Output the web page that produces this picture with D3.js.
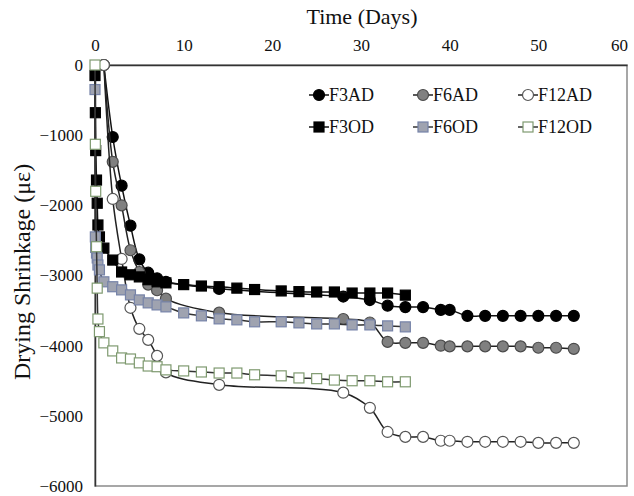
<!DOCTYPE html>
<html lang="en">
<head>
    <meta charset="UTF-8">
    <title>Drying Shrinkage</title>
    <script src="https://d3js.org/d3.v7.min.js"></script>
    <style>
        body { margin: 0; background: #fff; }
        svg text { font-family: 'Liberation Serif', 'Times New Roman', serif; fill: #111; }
        .tick text { font-size: 17px; }
    </style>
</head>
<body>
    <svg id="chart" width="634" height="496"></svg>

    <script>
        // Days of measurement (air dried / oven dried)
        const adDays = [1, 2, 3, 4, 5, 6, 7, 8, 14, 28, 31, 33, 35, 37, 39, 40, 42, 44, 46, 48, 50, 52, 54];
        const odDays = [0, 0.04, 0.08, 0.17, 0.25, 0.33, 0.5, 1, 2, 3, 4, 5, 6, 7, 8, 10, 12, 14, 16, 18, 21, 23, 25, 27, 29, 31, 33, 35];

        // Shrinkage values (microstrain)
        const f3ad = [0, -1026, -1720, -2290, -2770, -2960, -3040, -3090, -3190, -3300, -3350, -3430, -3450, -3450, -3490, -3490, -3575, -3575, -3575, -3575, -3575, -3575, -3575];
        const f6ad = [0, -1380, -2000, -2640, -2950, -3130, -3210, -3330, -3530, -3620, -3670, -3946, -3960, -3960, -4000, -4010, -4010, -4010, -4010, -4010, -4030, -4030, -4045];
        const f12ad = [0, -1909, -2764, -3460, -3760, -3917, -4145, -4380, -4558, -4670, -4886, -5230, -5300, -5300, -5355, -5355, -5370, -5370, -5370, -5370, -5385, -5385, -5385];
        const f3od = [-150, -680, -1220, -1640, -1970, -2280, -2450, -2610, -2780, -2950, -2990, -3020, -3060, -3090, -3105, -3130, -3150, -3160, -3180, -3200, -3220, -3230, -3235, -3235, -3250, -3250, -3250, -3280];
        const f6od = [-350, -2450, -2600, -2680, -2750, -2850, -2920, -3090, -3160, -3205, -3276, -3348, -3390, -3419, -3447, -3533, -3575, -3618, -3632, -3660, -3660, -3675, -3690, -3690, -3704, -3704, -3718, -3732];
        const f12od = [0, -1130, -1800, -2590, -3180, -3620, -3800, -3960, -4075, -4175, -4190, -4245, -4290, -4300, -4345, -4360, -4375, -4390, -4390, -4415, -4430, -4460, -4470, -4490, -4500, -4500, -4515, -4515];

        const xTicks = [0, 10, 20, 30, 40, 50, 60];
        const yTicks = [0, -1000, -2000, -3000, -4000, -5000, -6000];

        const series = [
            { name: "F3AD", days: adDays, values: f3ad, shape: "circle", fill: "#000", stroke: "#000", line: "#111" },
            { name: "F6AD", days: adDays, values: f6ad, shape: "circle", fill: "#808080", stroke: "#4a4a4a", line: "#222" },
            { name: "F12AD", days: adDays, values: f12ad, shape: "circle", fill: "#fff", stroke: "#555", line: "#222" },
            { name: "F3OD", days: odDays, values: f3od, shape: "square", fill: "#000", stroke: "#000", line: "#111" },
            { name: "F6OD", days: odDays, values: f6od, shape: "square", fill: "#9fa3b0", stroke: "#7683a8", line: "#333" },
            { name: "F12OD", days: odDays, values: f12od, shape: "square", fill: "#fff", stroke: "#7f9a70", line: "#333" }
        ];

        const plotLeft = 95, plotRight = 627, plotTop = 65, plotBottom = 486;
        const svg = d3.select("#chart");

        const x = d3.scaleLinear().domain([0, 60]).range([plotLeft, plotRight]);
        const y = d3.scaleLinear().domain([-6000, 0]).range([plotBottom, plotTop]);

        // plot area frame
        svg.append("rect")
            .attr("x", plotLeft).attr("y", plotTop)
            .attr("width", plotRight - plotLeft).attr("height", plotBottom - plotTop)
            .attr("fill", "none").attr("stroke", "#8a8a8a").attr("stroke-width", 1.5);

        const xAxis = svg.append("g")
            .attr("transform", `translate(0,${plotTop})`)
            .call(d3.axisTop(x).tickValues(xTicks).tickSize(0).tickPadding(14));
        xAxis.select(".domain").attr("stroke", "#333").attr("stroke-width", 1.5);
        // keep the last label inside the window
        xAxis.selectAll(".tick text").filter(d => d === 60).attr("dx", -8);

        const yAxis = svg.append("g")
            .attr("transform", `translate(${plotLeft},0)`)
            .call(d3.axisLeft(y).tickValues(yTicks).tickSize(0).tickPadding(12).tickFormat(d3.format("d")));
        yAxis.select(".domain").attr("stroke", "#333").attr("stroke-width", 1.5);

        svg.append("text")
            .attr("x", 362).attr("y", 24)
            .attr("text-anchor", "middle")
            .style("font-size", "22px")
            .text("Time (Days)");

        svg.append("text")
            .attr("transform", "translate(30,272) rotate(-90)")
            .attr("text-anchor", "middle")
            .style("font-size", "24px")
            .text("Drying Shrinkage (με)");

        const line = d3.line()
            .x(d => x(d[0]))
            .y(d => y(d[1]))
            .curve(d3.curveCatmullRom.alpha(0.5));

        function drawMarker(g, s, cx, cy) {
            if (s.shape === "circle") {
                g.append("circle")
                    .attr("cx", cx).attr("cy", cy).attr("r", 5.5)
                    .attr("fill", s.fill).attr("stroke", s.stroke).attr("stroke-width", 1.2);
            } else {
                g.append("rect")
                    .attr("x", cx - 5).attr("y", cy - 5)
                    .attr("width", 10).attr("height", 10)
                    .attr("fill", s.fill).attr("stroke", s.stroke).attr("stroke-width", 1.2);
            }
        }

        series.forEach(s => {
            const pts = s.days.map((d, i) => [d, s.values[i]]);
            const g = svg.append("g");
            g.append("path")
                .attr("d", line(pts))
                .attr("fill", "none")
                .attr("stroke", s.line)
                .attr("stroke-width", 1.5);
            pts.forEach(p => drawMarker(g, s, x(p[0]), y(p[1])));
        });

        // legend, 3 columns x 2 rows
        const legendX = [319, 423, 528], legendY = [95, 127];
        series.forEach((s, i) => {
            const lx = legendX[i % 3], ly = legendY[Math.floor(i / 3)];
            const g = svg.append("g");
            g.append("line")
                .attr("x1", lx - 10).attr("x2", lx + 10)
                .attr("y1", ly).attr("y2", ly)
                .attr("stroke", s.line).attr("stroke-width", 1.5);
            drawMarker(g, s, lx, ly);
            g.append("text")
                .attr("x", lx + 10).attr("y", ly)
                .attr("dy", "0.35em")
                .style("font-size", "18px")
                .text(s.name);
        });
    </script>
</body>
</html>
